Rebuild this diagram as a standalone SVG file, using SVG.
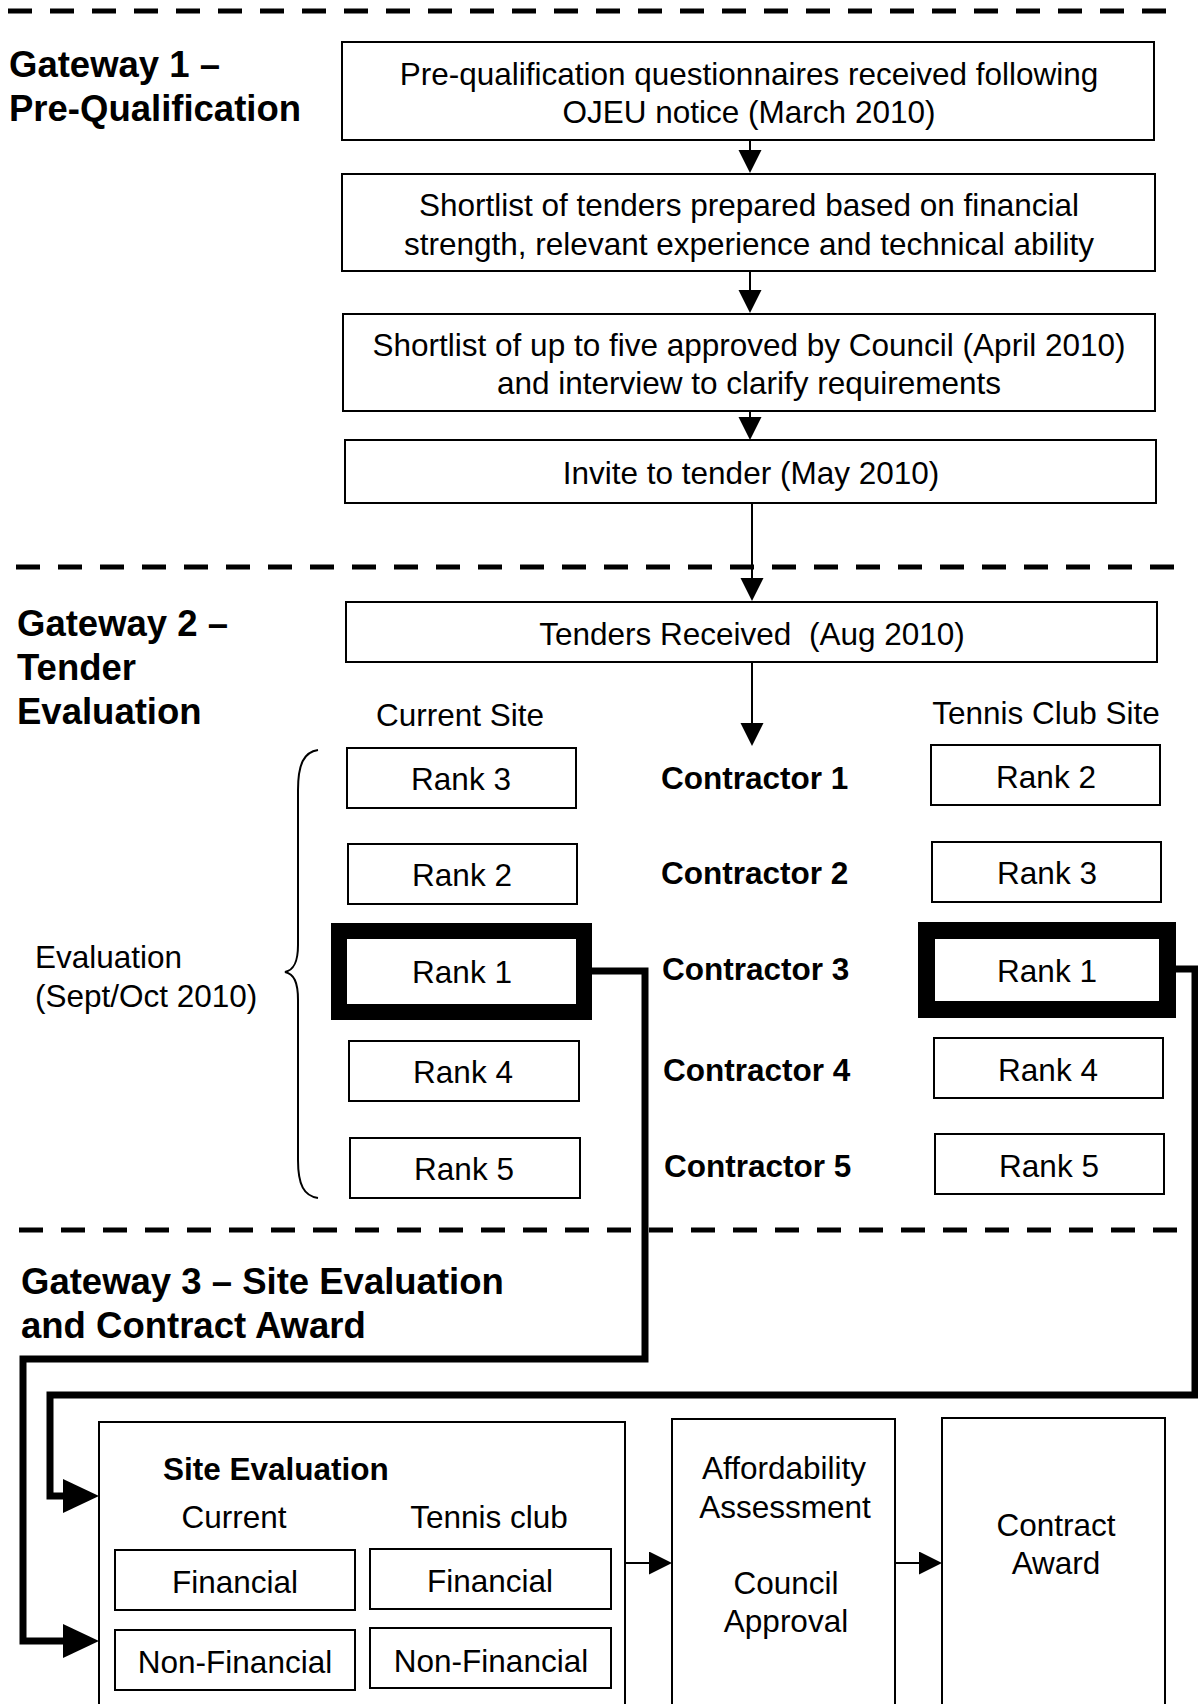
<svg xmlns="http://www.w3.org/2000/svg" width="1198" height="1704" viewBox="0 0 1198 1704">
<style>
  .bg{fill:#fff}
  .box{fill:#fff;stroke:#000;stroke-width:2}
  .thick{fill:#fff;stroke:#000}
  .t{font-family:"Liberation Sans",Arial,sans-serif;font-size:31.5px;fill:#000}
  .m{text-anchor:middle}
  .b{font-weight:bold}
  .h{font-family:"Liberation Sans",Arial,sans-serif;font-size:36.5px;font-weight:bold;fill:#000}
  .dash{stroke:#000;stroke-width:5;stroke-dasharray:24 18;fill:none}
  .flow{stroke:#000;stroke-width:2;fill:none}
  .conn{stroke:#000;stroke-width:7;fill:none;stroke-linejoin:miter}
  .brace{stroke:#000;stroke-width:2;fill:none}
</style>
<defs>
  <marker id="arr" markerUnits="userSpaceOnUse" markerWidth="24" markerHeight="24" refX="1" refY="11.5" orient="auto">
    <path d="M0,0 L23,11.5 L0,23 Z" fill="#000"/>
  </marker>
  <marker id="arrBig" markerUnits="userSpaceOnUse" markerWidth="38" markerHeight="36" refX="1" refY="17" orient="auto">
    <path d="M0,0 L36,17 L0,34 Z" fill="#000"/>
  </marker>
</defs>
<rect class="bg" x="0" y="0" width="1198" height="1704"/>

<g id="separators">
  <line class="dash" x1="8" y1="11" x2="1170" y2="11"/>
  <line class="dash" x1="16" y1="567" x2="1180" y2="567"/>
  <line class="dash" x1="19" y1="1230" x2="1184" y2="1230"/>
</g>

<g id="headings">
  <text class="h" x="9" y="77">Gateway 1 –</text>
  <text class="h" x="9" y="121">Pre-Qualification</text>
  <text class="h" x="17" y="636">Gateway 2 –</text>
  <text class="h" x="17" y="680">Tender</text>
  <text class="h" x="17" y="724">Evaluation</text>
  <text class="h" x="21" y="1294">Gateway 3 – Site Evaluation</text>
  <text class="h" x="21" y="1338">and Contract Award</text>
</g>

<g id="connectors">
  <line class="flow" x1="750" y1="140" x2="750" y2="151" marker-end="url(#arr)"/>
  <line class="flow" x1="750" y1="271" x2="750" y2="291" marker-end="url(#arr)"/>
  <line class="flow" x1="750" y1="411" x2="750" y2="418" marker-end="url(#arr)"/>
  <line class="flow" x1="752" y1="503" x2="752" y2="579" marker-end="url(#arr)"/>
  <line class="flow" x1="752" y1="662" x2="752" y2="724" marker-end="url(#arr)"/>
  <line class="flow" x1="625" y1="1563" x2="650" y2="1563" marker-end="url(#arr)"/>
  <line class="flow" x1="895" y1="1563" x2="920" y2="1563" marker-end="url(#arr)"/>
  <path class="conn" d="M591 971 H645 V1359 H23 V1641 H64" marker-end="url(#arrBig)"/>
  <path class="conn" d="M1175 969 H1195 V1395 H50 V1496 H64" marker-end="url(#arrBig)"/>
  <path class="brace" d="M318 750 C304 752 298 764 298 790 L298 945 C298 962 294 970 285 972 C294 974 298 982 298 1000 L298 1160 C298 1185 304 1196 318 1198"/>
</g>

<g id="n-prequal">
  <rect class="box" x="342" y="42" width="812" height="98"/>
  <text class="t m" x="749" y="85">Pre-qualification questionnaires received following</text>
  <text class="t m" x="749" y="123">OJEU notice (March 2010)</text>
</g>
<g id="n-shortlist">
  <rect class="box" x="342" y="174" width="813" height="97"/>
  <text class="t m" x="749" y="216">Shortlist of tenders prepared based on financial</text>
  <text class="t m" x="749" y="255">strength, relevant experience and technical ability</text>
</g>
<g id="n-approved">
  <rect class="box" x="343" y="314" width="812" height="97"/>
  <text class="t m" x="749" y="356">Shortlist of up to five approved by Council (April 2010)</text>
  <text class="t m" x="749" y="394">and interview to clarify requirements</text>
</g>
<g id="n-invite">
  <rect class="box" x="345" y="440" width="811" height="63"/>
  <text class="t m" x="751" y="484">Invite to tender (May 2010)</text>
</g>
<g id="n-received">
  <rect class="box" x="346" y="602" width="811" height="60"/>
  <text class="t m" x="752" y="645" xml:space="preserve">Tenders Received  (Aug 2010)</text>
</g>

<g id="labels">
  <text class="t m" x="460" y="726">Current Site</text>
  <text class="t m" x="1046" y="724">Tennis Club Site</text>
  <text class="t" x="35" y="968">Evaluation</text>
  <text class="t" x="35" y="1007">(Sept/Oct 2010)</text>
</g>

<g id="n-contractors">
  <text class="t b" x="661" y="789">Contractor 1</text>
  <text class="t b" x="661" y="884">Contractor 2</text>
  <text class="t b" x="662" y="980">Contractor 3</text>
  <text class="t b" x="663" y="1081">Contractor 4</text>
  <text class="t b" x="664" y="1177">Contractor 5</text>
</g>

<g id="n-current-r3"><rect class="box" x="347" y="748" width="229" height="60"/><text class="t m" x="461" y="790">Rank 3</text></g>
<g id="n-current-r2"><rect class="box" x="348" y="844" width="229" height="60"/><text class="t m" x="462" y="886">Rank 2</text></g>
<g id="n-current-r1"><rect class="thick" x="339" y="931" width="245" height="81" stroke-width="16"/><text class="t m" x="462" y="983">Rank 1</text></g>
<g id="n-current-r4"><rect class="box" x="349" y="1041" width="230" height="60"/><text class="t m" x="463" y="1083">Rank 4</text></g>
<g id="n-current-r5"><rect class="box" x="350" y="1138" width="230" height="60"/><text class="t m" x="464" y="1180">Rank 5</text></g>

<g id="n-tennis-r2"><rect class="box" x="931" y="745" width="229" height="60"/><text class="t m" x="1046" y="788">Rank 2</text></g>
<g id="n-tennis-r3"><rect class="box" x="932" y="842" width="229" height="60"/><text class="t m" x="1047" y="884">Rank 3</text></g>
<g id="n-tennis-r1"><rect class="thick" x="926.5" y="930.5" width="241" height="79" stroke-width="17"/><text class="t m" x="1047" y="982">Rank 1</text></g>
<g id="n-tennis-r4"><rect class="box" x="934" y="1038" width="229" height="60"/><text class="t m" x="1048" y="1081">Rank 4</text></g>
<g id="n-tennis-r5"><rect class="box" x="935" y="1134" width="229" height="60"/><text class="t m" x="1049" y="1177">Rank 5</text></g>

<g id="n-site-evaluation">
  <rect class="box" x="99" y="1422" width="526" height="300"/>
  <text class="t b" x="163" y="1480">Site Evaluation</text>
  <text class="t m" x="234" y="1528">Current</text>
  <text class="t m" x="489" y="1528">Tennis club</text>
</g>
<g id="n-cur-fin"><rect class="box" x="115" y="1550" width="240" height="60"/><text class="t m" x="235" y="1593">Financial</text></g>
<g id="n-ten-fin"><rect class="box" x="370" y="1549" width="241" height="60"/><text class="t m" x="490" y="1592">Financial</text></g>
<g id="n-cur-nonfin"><rect class="box" x="115" y="1630" width="240" height="60"/><text class="t m" x="235" y="1673">Non-Financial</text></g>
<g id="n-ten-nonfin"><rect class="box" x="370" y="1628" width="241" height="60"/><text class="t m" x="491" y="1672">Non-Financial</text></g>

<g id="n-affordability">
  <rect class="box" x="672" y="1419" width="223" height="300"/>
  <text class="t m" x="784" y="1479">Affordability</text>
  <text class="t m" x="785" y="1518">Assessment</text>
  <text class="t m" x="786" y="1594">Council</text>
  <text class="t m" x="786" y="1632">Approval</text>
</g>
<g id="n-award">
  <rect class="box" x="942" y="1418" width="223" height="300"/>
  <text class="t m" x="1056" y="1536">Contract</text>
  <text class="t m" x="1056" y="1574">Award</text>
</g>
</svg>
